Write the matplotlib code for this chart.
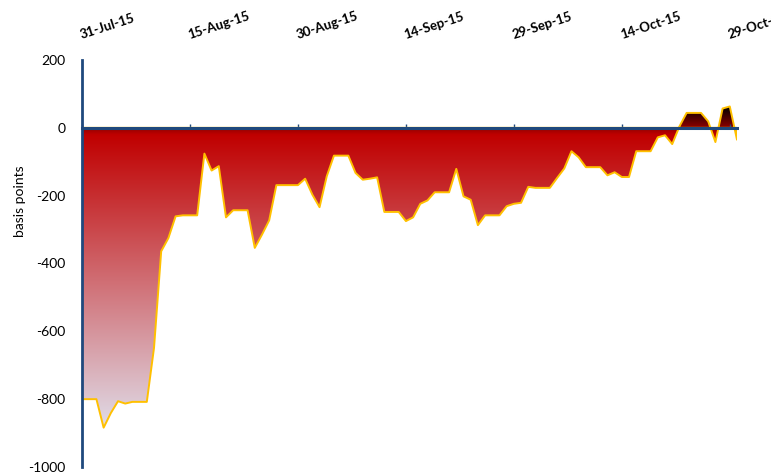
import numpy as np
import pandas as pd
import matplotlib
matplotlib.use("Agg")
import matplotlib.pyplot as plt
import matplotlib.dates as mdates
from matplotlib.colors import LinearSegmentedColormap
from matplotlib.patches import Polygon
from matplotlib.ticker import FuncFormatter

# Daily spread series, 31-Jul-15 onwards (basis points)
start_date = "2015-07-31"
spread_bp = [
    -800, -800, -800, -884, -841, -806, -813, -808, -808, -808,
    -649, -364, -325, -261, -258, -258, -258, -76, -126, -113,
    -264, -243, -243, -243, -354, -315, -273, -169, -169, -169,
    -169, -150, -197, -234, -143, -82, -82, -82, -133, -153,
    -150, -146, -248, -248, -248, -275, -264, -224, -214, -190,
    -190, -190, -121, -202, -212, -287, -258, -258, -258, -231,
    -224, -221, -174, -177, -177, -177, -148, -120, -69, -87,
    -116, -116, -116, -140, -131, -145, -145, -69, -69, -69,
    -28, -22, -48, 4, 44, 44, 44, 19, -42, 57,
    63, -35,
]
tick_dates = ["2015-07-31", "2015-08-15", "2015-08-30", "2015-09-14",
              "2015-09-29", "2015-10-14", "2015-10-29"]
y_ticks = [200, 0, -200, -400, -600, -800, -1000]

dates = pd.date_range(start_date, periods=len(spread_bp), freq="D")
x = mdates.date2num(dates.to_pydatetime())
y = np.array(spread_bp, dtype=float)

axis_blue = "#1F497D"
edge_gold = "#FFC000"

fig = plt.figure(figsize=(7.71, 4.72), dpi=100)
ax = fig.add_axes([0.1064, 0.0106, 0.8495, 0.8623])

ax.set_xlim(x[0], x[-1])
ax.set_ylim(-1000, 200)

# vertical gradient: black above zero, red just below, pale lavender at the trough
vmin, vmax = y.min(), y.max()
red_pos = (-20 - vmin) / (vmax - vmin)
cmap = LinearSegmentedColormap.from_list(
    "spread", [(0.0, "#E0DCE8"), (red_pos, "#C00000"), (1.0, "#000000")])
grad = np.linspace(0, 1, 512).reshape(-1, 1)
im = ax.imshow(grad, cmap=cmap, aspect="auto", origin="lower",
               extent=[x[0], x[-1], vmin, vmax], zorder=1, interpolation="bilinear")

verts = [(x[0], 0)] + list(zip(x, y)) + [(x[-1], 0)]
area = Polygon(verts, closed=True, facecolor="none", edgecolor=edge_gold,
               linewidth=1.4, joinstyle="round", zorder=2)
ax.add_patch(area)
im.set_clip_path(area)

# axes: left spine plus the zero line acting as the date axis
for side in ["top", "right"]:
    ax.spines[side].set_visible(False)
ax.spines["left"].set_color(axis_blue)
ax.spines["left"].set_linewidth(2)
ax.spines["bottom"].set_position(("data", 0))
ax.spines["bottom"].set_color(axis_blue)
ax.spines["bottom"].set_linewidth(2.2)
ax.spines["bottom"].set_zorder(3)

tick_x = mdates.date2num(pd.to_datetime(tick_dates).to_pydatetime())
ax.xaxis.set_ticks_position("bottom")
ax.set_xticks(tick_x)
ax.set_xticklabels([])
ax.tick_params(axis="x", direction="in", length=3, width=1, color=axis_blue,
               labelbottom=False)

# date labels sit above the plot, slanted
for tx, d in zip(tick_x, pd.to_datetime(tick_dates)):
    ax.annotate(d.strftime("%d-%b-%y"), xy=(tx, 1.0),
                xycoords=("data", "axes fraction"),
                xytext=(0, 21), textcoords="offset pixels",
                rotation=18, rotation_mode="anchor", ha="left", va="baseline",
                fontsize=9.5, fontweight="bold", family="Lato",
                annotation_clip=False)

ax.set_yticks(y_ticks)
ax.yaxis.set_major_formatter(FuncFormatter(lambda v, p: f"{int(v)}"))
ax.tick_params(axis="y", length=0, pad=12, labelsize=10)
for lbl in ax.get_yticklabels():
    lbl.set_family("Lato")

ax.set_ylabel("basis points", fontsize=10, family="Lato")
ax.yaxis.set_label_coords(-0.086, 0.654)

fig.savefig("out.png", dpi=100)
